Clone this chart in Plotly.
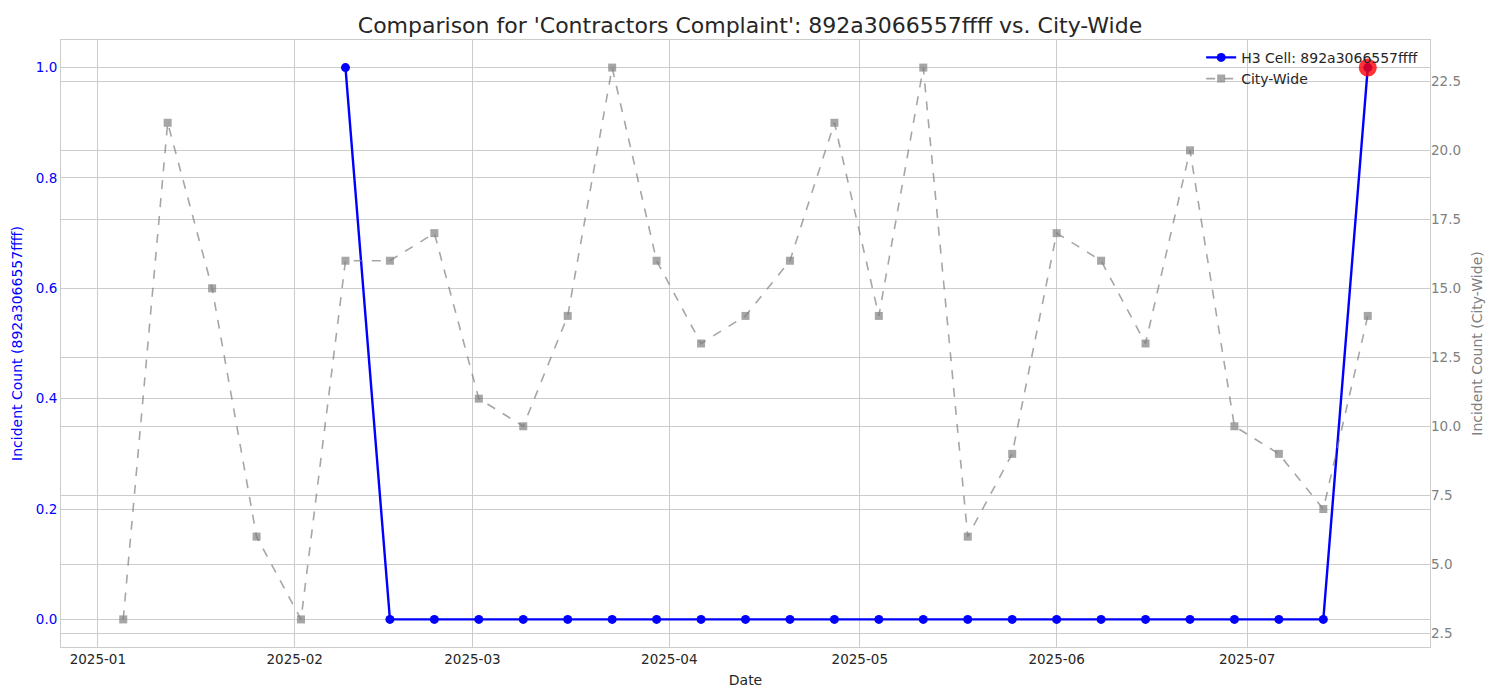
import pandas as pd
import plotly.graph_objects as go

weeks = pd.date_range("2025-01-05", "2025-07-20", freq="7D")
city_counts = [3, 21, 15, 6, 3, 16, 16, 17, 11, 10, 14, 23, 16, 13, 14, 16, 21,
               14, 23, 6, 9, 17, 16, 13, 20, 10, 9, 7, 14]
cell_dates = weeks[5:]
cell_counts = [1] + [0] * 22 + [1]
cell_name = "892a3066557ffff"

pad = (weeks[-1] - weeks[0]) * 0.05

fig = go.Figure()
fig.add_trace(go.Scatter(
    x=weeks, y=city_counts, name="City-Wide", yaxis="y2",
    mode="lines+markers",
    line=dict(color="rgba(128,128,128,0.7)", width=1.6, dash="dash"),
    marker=dict(symbol="square", size=8, color="rgba(128,128,128,0.7)"),
))
fig.add_trace(go.Scatter(
    x=cell_dates, y=cell_counts, name="H3 Cell: " + cell_name,
    mode="lines+markers",
    line=dict(color="blue", width=2.4),
    marker=dict(symbol="circle", size=9, color="blue"),
))
# highlight the latest week
fig.add_trace(go.Scatter(
    x=[cell_dates[-1]], y=[cell_counts[-1]], mode="markers", showlegend=False,
    marker=dict(size=18, color="rgba(255,0,0,0.8)"),
))

grid = "#cccccc"
fig.update_layout(
    width=1484, height=684,
    paper_bgcolor="white", plot_bgcolor="white",
    font=dict(family="DejaVu Sans", size=13.5, color="#262626"),
    margin=dict(l=53, r=62, t=32, b=45),
    title=dict(text="Comparison for 'Contractors Complaint': " + cell_name + " vs. City-Wide",
               x=0.5, xanchor="center", y=0.975, yanchor="middle",
               font=dict(size=22, color="#262626")),
    legend=dict(x=0.995, y=0.997, xanchor="right", yanchor="top",
                bgcolor="rgba(0,0,0,0)", font=dict(size=14), traceorder="reversed"),
    xaxis=dict(
        title=dict(text="Date", standoff=8, font=dict(size=14)),
        range=[weeks[0] - pad, weeks[-1] + pad],
        tickformat="%Y-%m", dtick="M1", tick0="2025-01-01",
        showgrid=True, gridcolor=grid, showline=True, linecolor=grid, mirror=True,
        ticks="", zeroline=False, automargin=False,
    ),
    yaxis=dict(
        title=dict(text="Incident Count (" + cell_name + ")",
                   font=dict(color="blue", size=14), standoff=9),
        range=[-0.05, 1.05], dtick=0.2, tickformat=".1f",
        tickfont=dict(color="blue"),
        showgrid=True, gridcolor=grid, showline=True, linecolor=grid, mirror=True,
        zeroline=False, automargin=False,
    ),
    yaxis2=dict(
        title=dict(text="Incident Count (City-Wide)",
                   font=dict(color="gray", size=14), standoff=12),
        overlaying="y", side="right",
        range=[2, 24], dtick=2.5, tick0=2.5, tickformat=".1f",
        tickfont=dict(color="gray"),
        showgrid=True, gridcolor=grid, zeroline=False, automargin=False,
    ),
)

fig.write_html("out.html")
